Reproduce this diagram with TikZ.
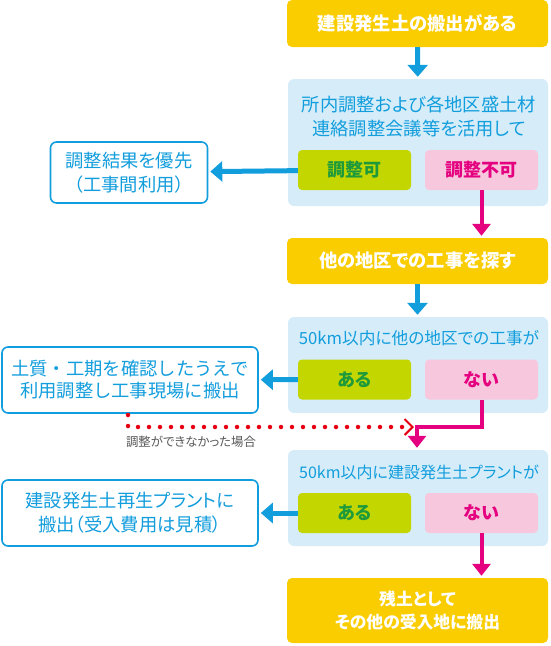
\documentclass[tikz,border=0pt]{standalone}
\usepackage{fontspec}
\setmainfont{Noto Sans CJK JP}[RawFeature=+palt]
\newfontfamily\jpfixed{Noto Sans CJK JP}
\usepackage{xcolor}
\usetikzlibrary{arrows.meta,positioning}

\definecolor{kyellow}{HTML}{FACD00}
\definecolor{kpanel}{HTML}{D6EDF9}
\definecolor{kblue}{HTML}{129DDD}
\definecolor{kgreen}{HTML}{C3D600}
\definecolor{kgreentext}{HTML}{1F9A3B}
\definecolor{kpinkbox}{HTML}{F7C8DD}
\definecolor{kpink}{HTML}{E4007F}
\definecolor{kred}{HTML}{E60012}
\definecolor{kgray}{HTML}{595757}

\begin{document}
\begin{tikzpicture}[x=1pt,y=-1pt,
    mainbox/.style={fill=kyellow, text=white, rounded corners=5pt, minimum width=261pt, align=center, inner sep=0pt, font=\bfseries\fontsize{18.3}{23}\selectfont},
    panel/.style={fill=kpanel, rounded corners=6pt, minimum width=260pt, inner sep=0pt},
    question/.style={text=kblue, align=center, inner sep=0pt, font=\fontsize{18.3}{23.5}\selectfont},
    yesbox/.style={fill=kgreen, text=kgreentext, rounded corners=4pt, minimum width=113pt, minimum height=40pt, inner sep=0pt, font=\bfseries\fontsize{18}{20}\selectfont},
    nobox/.style={fill=kpinkbox, text=kpink, rounded corners=4pt, minimum width=113pt, minimum height=40pt, inner sep=0pt, font=\bfseries\fontsize{18}{20}\selectfont},
    resultbox/.style={draw=kblue, line width=1.6pt, fill=white, text=kblue, rounded corners=6pt, align=center, inner sep=0pt, font=\fontsize{18.3}{24}\selectfont},
    bluearrow/.style={draw=kblue, line width=5pt, shorten >=2pt, -{Triangle[width=20pt,length=12pt]}},
    pinkarrow/.style={draw=kpink, line width=4pt, shorten >=2pt, -{Triangle[width=18pt,length=12pt]}},
    faildots/.style={draw=kred, line width=4.5pt, line cap=round, dash pattern=on 0pt off 11pt, -{Straight Barb[line width=2pt,length=8pt,width=16pt]}}
  ]
  \useasboundingbox (0,0) rectangle (550,646);

  \node[mainbox, minimum height=47pt] (start) at (417.5,23.5) {建設発生土の搬出がある};

  \node[panel, minimum height=127pt] (panelA) at (418,142.5) {};
  \node[question] (qA) at (419,116.5) {所内調整および各地区盛土材\\連絡調整会議等を活用して};
  \node[yesbox] (yesA) at (354.5,170) {調整可};
  \node[nobox] (noA) at (481.5,170) {調整不可};
  \node[resultbox, minimum width=157pt, minimum height=61pt] (leftA) at (129,172.5) {調整結果を優先\\（工事間利用）};

  \node[mainbox, minimum height=46pt] (search) at (417.5,261) {他の地区での工事を探す};

  \node[panel, minimum height=96pt] (panelB) at (418,365) {};
  \node[question, font=\fontsize{16.7}{20}\selectfont] (qB) at (419,338) {50km以内に他の地区での工事が};
  \node[yesbox] (yesB) at (354.5,379.5) {ある};
  \node[nobox] (noB) at (481.5,379.5) {ない};
  \node[resultbox, minimum width=256pt, minimum height=66pt, font=\jpfixed\fontsize{18.3}{22}\selectfont] (leftB) at (130,380) {土質・工期を確認したうえで\\利用調整し工事現場に搬出};

  \node[panel, minimum height=96pt] (panelC) at (418,498) {};
  \node[question, font=\fontsize{16}{20}\selectfont] (qC) at (419,472) {50km以内に建設発生土プラントが};
  \node[yesbox] (yesC) at (354.5,513) {ある};
  \node[nobox] (noC) at (481.5,513) {ない};
  \node[resultbox, minimum width=256pt, minimum height=66pt] (leftC) at (130,513) {建設発生土再生プラントに\\搬出（受入費用は見積）};

  \node[mainbox, minimum height=65pt, font=\bfseries\fontsize{16.8}{23}\selectfont] (rest) at (417.5,610.5) {残土として\\その他の受入地に搬出};

  \coordinate (bendB) at (417,427);
  \coordinate (failstart) at (128,415);
  \coordinate (failend) at (414,427);

  \draw[bluearrow] (start) -- (panelA);
  \draw[bluearrow] (yesA) -- (leftA);
  \draw[pinkarrow] (noA) -- (noA.south |- search.north);
  \draw[bluearrow] (search) -- (search |- panelB.north);
  \draw[bluearrow] (yesB) -- (leftB);
  \draw[faildots] (failstart) |- (failend);
  \draw[pinkarrow] (noB.south) |- (bendB) -- (bendB |- panelC.north);
  \node[text=kgray, font=\fontsize{12.4}{14}\selectfont] (faillabel) at (191,442) {調整ができなかった場合};
  \draw[bluearrow] (yesC) -- (leftC);
  \draw[pinkarrow] (noC) -- (noC.south |- rest.north);
\end{tikzpicture}
\end{document}
